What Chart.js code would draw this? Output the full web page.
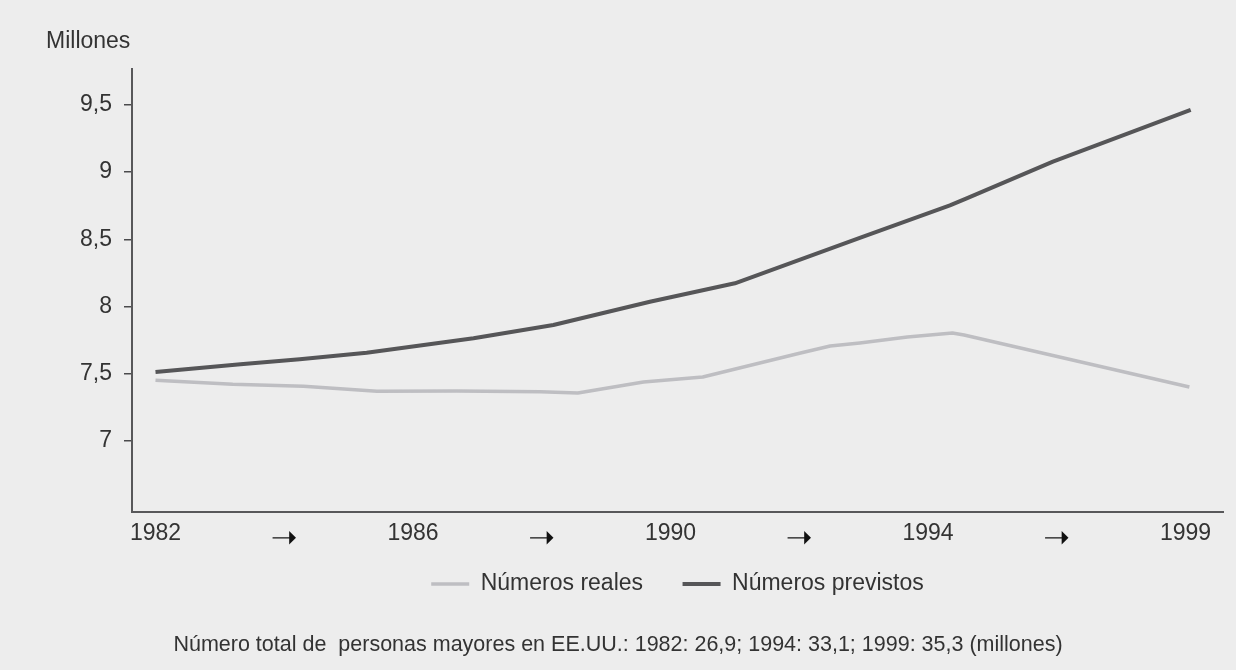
<!DOCTYPE html>
<html>
<head>
<meta charset="utf-8">
<script src="https://cdn.jsdelivr.net/npm/chart.js@4/dist/chart.umd.min.js"></script>
<style>
  html, body { margin: 0; padding: 0; background: #ededed; }
  #wrap { position: relative; width: 1236px; height: 670px; background: #ededed; overflow: hidden; }
  #c { position: absolute; left: 0; top: 0; }
  .txt { position: absolute; font-family: "Liberation Sans", Arial, sans-serif; font-size: 23px; line-height: 23px; color: #333; white-space: pre; }
  #ytitle { left: 46px; top: 29px; }
  #note { left: 0; width: 1236px; top: 634px; text-align: center; font-size: 21.5px; line-height: 21.5px; }
</style>
</head>
<body>
<div id="wrap">
  <canvas id="c" width="1236" height="670"></canvas>
  <div id="ytitle" class="txt">Millones</div>
  <div id="note" class="txt">Número total de  personas mayores en EE.UU.: 1982: 26,9; 1994: 33,1; 1999: 35,3 (millones)</div>
</div>
<script>
// ---- data (x positions are in axis-label units: 0 = 1982 ... 8 = 1999) ----
const ARROW = '➝';
const xTickPositions = [0, 1, 2, 3, 4, 5, 6, 7, 8];
const xTickLabels = ['1982', ARROW, '1986', ARROW, '1990', ARROW, '1994', ARROW, '1999'];
const yTickValues = [7, 7.5, 8, 8.5, 9, 9.5];

const seriesNames = ['Números reales', 'Números previstos'];

const realX = [0, 0.60, 1.15, 1.72, 2.34, 2.99, 3.28, 3.79, 4.25, 5.01, 5.24, 5.47, 5.84, 6.19, 6.28, 8.03];
const realY = [7.45, 7.42, 7.405, 7.368, 7.37, 7.365, 7.355, 7.437, 7.474, 7.653, 7.705, 7.728, 7.772, 7.802, 7.787, 7.40];

const prevX = [0, 0.66, 1.12, 1.64, 2.47, 3.09, 3.84, 4.50, 5.47, 6.17, 6.30, 6.97, 8.04];
const prevY = [7.512, 7.569, 7.606, 7.655, 7.763, 7.862, 8.035, 8.172, 8.511, 8.753, 8.805, 9.078, 9.463];

// ---- chart ----
const FONT = '"Liberation Sans", Arial, sans-serif';
Chart.defaults.font.family = FONT;
Chart.defaults.font.size = 23;
Chart.defaults.color = '#333';

const toPts = (xs, ys) => xs.map((x, i) => ({ x: x, y: ys[i] }));

// move the legend up, closer to the x axis labels
const legendShift = {
  id: 'legendShift',
  afterLayout(chart) {
    const lg = chart.legend;
    if (lg) { lg.top -= 29; lg.bottom -= 29; }
  }
};

new Chart(document.getElementById('c'), {
  type: 'line',
  data: {
    datasets: [
      {
        label: seriesNames[0],
        data: toPts(realX, realY),
        borderColor: '#bebec2',
        backgroundColor: '#bebec2',
        borderWidth: 3.5,
        pointRadius: 0,
        tension: 0,
        borderJoinStyle: 'round',
        fill: false
      },
      {
        label: seriesNames[1],
        data: toPts(prevX, prevY),
        borderColor: '#565658',
        backgroundColor: '#565658',
        borderWidth: 4,
        pointRadius: 0,
        tension: 0,
        borderJoinStyle: 'round',
        fill: false
      }
    ]
  },
  plugins: [legendShift],
  options: {
    responsive: false,
    animation: false,
    devicePixelRatio: 1,
    layout: { padding: { top: 69, right: 13, bottom: 35.5, left: 0 } },
    plugins: {
      tooltip: { enabled: false },
      title: { display: false },
      legend: {
        display: true,
        position: 'bottom',
        fullSize: false,
        labels: {
          usePointStyle: true,
          pointStyle: 'line',
          pointStyleWidth: 38,
          boxWidth: 38,
          padding: 39.5,
          color: '#333',
          font: { size: 23, family: FONT }
        }
      }
    },
    scales: {
      x: {
        type: 'linear',
        min: -0.1825,
        max: 8.291,
        afterBuildTicks: (s) => { s.ticks = xTickPositions.map(v => ({ value: v })); },
        afterFit: (s) => { s.height = 50; },
        grid: { display: false, drawTicks: false },
        border: { display: true, color: '#58585a', width: 2 },
        ticks: {
          autoSkip: false,
          maxRotation: 0,
          padding: 8,
          font: (ctx) => (xTickLabels[ctx.index] === ARROW
            ? { size: 32, family: '"DejaVu Sans", sans-serif' }
            : { size: 23, family: FONT }),
          color: (ctx) => (xTickLabels[ctx.index] === ARROW ? '#111' : '#333'),
          callback: (v, i) => xTickLabels[i]
        }
      },
      y: {
        type: 'linear',
        min: 6.469,
        max: 9.768,
        afterBuildTicks: (s) => { s.ticks = yTickValues.map(v => ({ value: v })); },
        afterFit: (s) => { s.width = 132; },
        grid: { display: true, drawOnChartArea: false, drawTicks: true, tickLength: 8, color: '#4a4a4c', lineWidth: 1.5 },
        border: { display: true, color: '#58585a', width: 2 },
        ticks: {
          padding: 12,
          font: { size: 23, family: FONT },
          color: '#333',
          callback: (v) => String(v).replace('.', ',')
        }
      }
    }
  }
});
</script>
</body>
</html>
